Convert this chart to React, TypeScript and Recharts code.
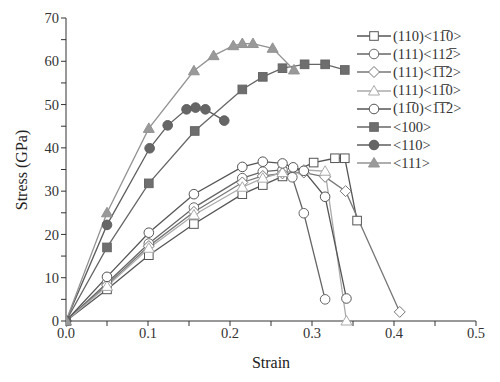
import { LineChart, Line, XAxis, YAxis, Legend } from "recharts"

// strain values (x) and stress values in GPa (y) for each loading case
const strain110a = [0, 0.05, 0.101, 0.156, 0.215, 0.24, 0.264, 0.302, 0.328, 0.34, 0.355]
const stress110a = [0, 7.3, 15.2, 22.4, 29.3, 31.4, 33.4, 36.6, 37.6, 37.6, 23.2]

const strain111a = [0, 0.05, 0.101, 0.156, 0.215, 0.24, 0.264, 0.276, 0.29, 0.316]
const stress111a = [0, 8.8, 17.9, 26.2, 33.0, 34.5, 34.9, 33.2, 24.9, 5.0]

const strain111b = [0, 0.05, 0.101, 0.156, 0.215, 0.24, 0.264, 0.29, 0.316, 0.341, 0.407]
const stress111b = [0, 8.3, 17.3, 25.2, 32.0, 33.5, 34.1, 34.3, 33.3, 30.0, 2.1]

const strain111c = [0, 0.05, 0.101, 0.156, 0.215, 0.24, 0.264, 0.29, 0.316, 0.342]
const stress111c = [0, 8.0, 16.8, 24.5, 30.9, 33.0, 34.3, 34.9, 34.6, 0]

const strain1m10 = [0, 0.05, 0.101, 0.156, 0.215, 0.24, 0.264, 0.277, 0.29, 0.316, 0.342]
const stress1m10 = [0, 10.2, 20.4, 29.3, 35.6, 36.8, 36.4, 35.5, 34.7, 28.7, 5.2]

const strain100 = [0, 0.05, 0.101, 0.157, 0.215, 0.24, 0.264, 0.291, 0.316, 0.34]
const stress100 = [0, 17.0, 31.8, 43.9, 53.5, 56.4, 58.4, 59.3, 59.3, 58.0]

const strain110 = [0, 0.05, 0.102, 0.124, 0.147, 0.158, 0.17, 0.193]
const stress110 = [0, 22.2, 39.9, 45.2, 48.9, 49.3, 48.9, 46.3]

const strain111 = [0, 0.05, 0.101, 0.156, 0.18, 0.204, 0.215, 0.228, 0.252, 0.278]
const stress111 = [0, 25.0, 44.5, 57.8, 61.3, 63.6, 64.1, 64.1, 63.0, 58.0]

const xTicks = [0, 0.05, 0.1, 0.15, 0.2, 0.25, 0.3, 0.35, 0.4, 0.45, 0.5]
const yTicks = [0, 5, 10, 15, 20, 25, 30, 35, 40, 45, 50, 55, 60, 65, 70]

const OL = "\u0305"

const zip = (xs: number[], ys: number[]) => xs.map((x, i) => ({ x, y: ys[i] }))

type Shape = "square" | "circle" | "diamond" | "triangle"

const series = [
  { name: `(110)<11${OL}0>`, data: zip(strain110a, stress110a), shape: "square" as Shape, color: "#555", fill: "#fff" },
  { name: `(111)<112${OL}>`, data: zip(strain111a, stress111a), shape: "circle" as Shape, color: "#666", fill: "#fff" },
  { name: `(111)<1${OL}1${OL}2>`, data: zip(strain111b, stress111b), shape: "diamond" as Shape, color: "#777", fill: "#fff" },
  { name: `(111)<11${OL}0>`, data: zip(strain111c, stress111c), shape: "triangle" as Shape, color: "#aaa", fill: "#fff" },
  { name: `(11${OL}0)<1${OL}1${OL}2>`, data: zip(strain1m10, stress1m10), shape: "circle" as Shape, color: "#555", fill: "#fff" },
  { name: "<100>", data: zip(strain100, stress100), shape: "square" as Shape, color: "#666", fill: "#6e6e6e" },
  { name: "<110>", data: zip(strain110, stress110), shape: "circle" as Shape, color: "#5e5e5e", fill: "#666" },
  { name: "<111>", data: zip(strain111, stress111), shape: "triangle" as Shape, color: "#939393", fill: "#999" },
]

const font = "'Liberation Serif', 'Times New Roman', serif"

function Marker({ cx, cy, shape, stroke, fill }: { cx: number; cy: number; shape: Shape; stroke: string; fill: string }) {
  const r = 4.3
  if (shape === "square") return <rect x={cx - r} y={cy - r} width={r * 2} height={r * 2} stroke={stroke} fill={fill} strokeWidth={1} />
  if (shape === "circle") return <circle cx={cx} cy={cy} r={r + 0.5} stroke={stroke} fill={fill} strokeWidth={1} />
  if (shape === "diamond")
    return <polygon points={`${cx},${cy - 5.5} ${cx + 5.5},${cy} ${cx},${cy + 5.5} ${cx - 5.5},${cy}`} stroke={stroke} fill={fill} strokeWidth={1} />
  return <polygon points={`${cx},${cy - 5.5} ${cx + 5.5},${cy + 4} ${cx - 5.5},${cy + 4}`} stroke={stroke} fill={fill} strokeWidth={1} />
}

const LegendBox = () => (
  <div style={{ fontFamily: font, fontSize: 14.5, color: "#333" }}>
    {series.map((s) => (
      <div key={s.name} style={{ display: "flex", alignItems: "center", height: 18.2 }}>
        <svg width={36} height={18}>
          <line x1={1} y1={9} x2={35} y2={9} stroke={s.color} strokeWidth={1.5} />
          <Marker cx={18} cy={9} shape={s.shape} stroke={s.color} fill={s.fill} />
        </svg>
        <span style={{ marginLeft: 1, whiteSpace: "nowrap" }}>{s.name}</span>
      </div>
    ))}
  </div>
)

const xFmt = (v: number) => (Math.round(v * 100) % 10 === 0 ? v.toFixed(1) : "")
const yFmt = (v: number) => (v % 10 === 0 ? String(v) : "")

export default function App() {
  const tickStyle = { fill: "#333", fontSize: 14.5, fontFamily: font }
  return (
    <div style={{ position: "absolute", left: 0, top: 0, background: "#fff" }}>
      <LineChart width={500} height={382} margin={{ top: 18, right: 24, bottom: 0, left: 0 }}>
        <XAxis
          dataKey="x"
          type="number"
          domain={[0, 0.5]}
          ticks={xTicks}
          tickFormatter={xFmt}
          tick={tickStyle}
          stroke="#333"
          tickSize={5}
          height={61}
          allowDataOverflow
          label={{
            content: () => (
              <text x={271} y={368} textAnchor="middle" fontFamily={font} fontSize={16} fill="#222">
                Strain
              </text>
            ),
          }}
        />
        <XAxis xAxisId="top" orientation="top" type="number" domain={[0, 0.5]} ticks={xTicks} tick={false} mirror stroke="#333" tickSize={5} height={0} />
        <YAxis
          type="number"
          domain={[0, 70]}
          ticks={yTicks}
          tickFormatter={yFmt}
          tick={tickStyle}
          stroke="#333"
          tickSize={5}
          width={66}
          label={{
            content: () => (
              <text x={27} y={170} transform="rotate(-90 27 170)" textAnchor="middle" fontFamily={font} fontSize={16} fill="#222">
                Stress (GPa)
              </text>
            ),
          }}
        />
        <YAxis yAxisId="right" orientation="right" type="number" domain={[0, 70]} ticks={yTicks} tick={false} mirror stroke="#333" tickSize={5} width={0} />
        <Legend content={<LegendBox />} layout="vertical" verticalAlign="middle" align="center" wrapperStyle={{ left: 356, top: 27, width: 144 }} />
        {series.map((s) => (
          <Line
            key={s.name}
            data={s.data}
            dataKey="y"
            name={s.name}
            stroke={s.color}
            strokeWidth={1.3}
            isAnimationActive={false}
            dot={(p: any) => <Marker key={`${s.name}-${p.index}`} cx={p.cx} cy={p.cy} shape={s.shape} stroke={s.color} fill={s.fill} />}
            activeDot={false}
          />
        ))}
      </LineChart>
    </div>
  )
}
